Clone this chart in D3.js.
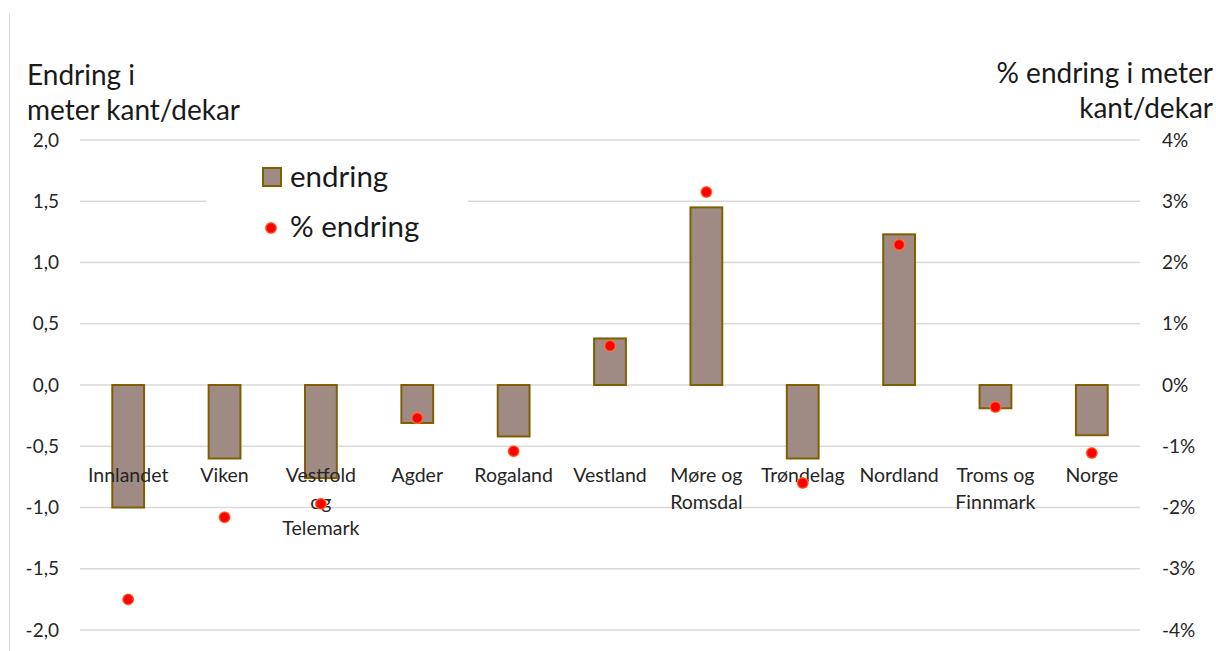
<!DOCTYPE html>
<html>
<head>
<meta charset="utf-8">
<script src="https://cdn.jsdelivr.net/npm/d3@7"></script>
<style>
  html, body { margin: 0; padding: 0; background: #fff; }
  svg { display: block; font-family: "Lato", "Open Sans", sans-serif; }
</style>
</head>
<body>
<svg id="chart" width="1216" height="651"></svg>
<script>
// Regions (last entry is the national total)
const categories = [
  ["Innlandet"], ["Viken"], ["Vestfold", "og", "Telemark"], ["Agder"], ["Rogaland"],
  ["Vestland"], ["Møre og", "Romsdal"], ["Trøndelag"], ["Nordland"],
  ["Troms og", "Finnmark"], ["Norge"]
];
// Change in metres of edge per decare
const endring = [-1.0, -0.6, -0.76, -0.31, -0.42, 0.38, 1.45, -0.6, 1.23, -0.19, -0.41];
// Percentage change (right axis)
const prosentEndring = [-3.5, -2.16, -1.94, -0.54, -1.08, 0.64, 3.15, -1.6, 2.29, -0.36, -1.11];

const leftTicks = [2.0, 1.5, 1.0, 0.5, 0.0, -0.5, -1.0, -1.5, -2.0];
const rightTicks = [4, 3, 2, 1, 0, -1, -2, -3, -4];

const svg = d3.select("#chart");
const plot = { left: 80, right: 1140, top: 140, bottom: 630 };

const x = d3.scaleBand()
  .domain(d3.range(categories.length))
  .range([plot.left, plot.right])
  .paddingInner(0.67).paddingOuter(0.335);
const yL = d3.scaleLinear().domain([-2, 2]).range([plot.bottom, plot.top]);
const yR = d3.scaleLinear().domain([-4, 4]).range([plot.bottom, plot.top]);

const fmtL = d => d3.format(".1f")(d).replace(".", ",").replace("−", "-");
const fmtR = d => String(d) + "%";

// Chart frame edge
svg.append("line")
  .attr("x1", 9.5).attr("x2", 9.5).attr("y1", 14).attr("y2", 651)
  .attr("stroke", "#d9d9d9").attr("stroke-width", 1);

// Gridlines
svg.append("g")
  .selectAll("line").data(leftTicks).join("line")
  .attr("x1", plot.left).attr("x2", plot.right)
  .attr("y1", d => yL(d)).attr("y2", d => yL(d))
  .attr("stroke", "#d9d9d9").attr("stroke-width", 1.5);

// Left axis labels
const axL = svg.append("g").attr("transform", `translate(${plot.left},0)`)
  .call(d3.axisLeft(yL).tickValues(leftTicks).tickFormat(fmtL).tickSize(0).tickPadding(21));
axL.select(".domain").remove();
axL.selectAll("text").attr("font-size", 19).attr("fill", "#262626")
  .attr("font-family", "Lato, sans-serif");

// Right axis labels
const axR = svg.append("g").attr("transform", `translate(${plot.right},0)`)
  .call(d3.axisRight(yR).tickValues(rightTicks).tickFormat(fmtR).tickSize(0).tickPadding(22));
axR.select(".domain").remove();
axR.selectAll("text").attr("font-size", 19).attr("fill", "#262626")
  .attr("font-family", "Lato, sans-serif");

// Bars
svg.append("g").selectAll("rect").data(endring).join("rect")
  .attr("x", (d, i) => x(i))
  .attr("width", x.bandwidth())
  .attr("y", d => yL(Math.max(0, d)))
  .attr("height", d => Math.abs(yL(d) - yL(0)))
  .attr("fill", "#a08a84")
  .attr("stroke", "#7f6000").attr("stroke-width", 2);

// Category labels
const labels = svg.append("g").selectAll("text").data(categories).join("text")
  .attr("text-anchor", "middle")
  .attr("font-size", 19.5).attr("fill", "#262626")
  .attr("x", (d, i) => x(i) + x.bandwidth() / 2)
  .attr("y", 482);
labels.selectAll("tspan").data(d => d).join("tspan")
  .attr("x", function () { return d3.select(this.parentNode).attr("x"); })
  .attr("dy", (d, j) => j === 0 ? 0 : 26.5)
  .text(d => d);

// Dots (right axis)
const glow = svg.append("defs").append("radialGradient").attr("id", "dotGrad");
glow.append("stop").attr("offset", "0.65").attr("stop-color", "#ff0000");
glow.append("stop").attr("offset", "1").attr("stop-color", "#ff8c3c");
svg.append("g").selectAll("circle").data(prosentEndring).join("circle")
  .attr("cx", (d, i) => x(i) + x.bandwidth() / 2)
  .attr("cy", d => yR(d))
  .attr("r", 6)
  .attr("fill", "url(#dotGrad)");

// Axis titles
const titleL = svg.append("text").attr("font-size", 28).attr("fill", "#1a1a1a");
titleL.append("tspan").attr("x", 27).attr("y", 85).text("Endring i");
titleL.append("tspan").attr("x", 27).attr("y", 120).text("meter kant/dekar");

const titleR = svg.append("text").attr("font-size", 28).attr("fill", "#1a1a1a")
  .attr("text-anchor", "end");
titleR.append("tspan").attr("x", 1213).attr("y", 83).text("% endring i meter");
titleR.append("tspan").attr("x", 1213).attr("y", 118).text("kant/dekar");

// Legend
const legend = svg.append("g");
legend.append("rect").attr("x", 206).attr("y", 152).attr("width", 262).attr("height", 100)
  .attr("fill", "#fff");
legend.append("rect").attr("x", 263).attr("y", 168).attr("width", 18).attr("height", 18)
  .attr("fill", "#a08a84").attr("stroke", "#7f6000").attr("stroke-width", 2);
legend.append("text").attr("x", 290).attr("y", 187).attr("font-size", 29.5).attr("fill", "#1a1a1a")
  .text("endring");
legend.append("circle").attr("cx", 271).attr("cy", 228).attr("r", 6).attr("fill", "url(#dotGrad)");
legend.append("text").attr("x", 290).attr("y", 237).attr("font-size", 29.5).attr("fill", "#1a1a1a")
  .text("% endring");
</script>
</body>
</html>
